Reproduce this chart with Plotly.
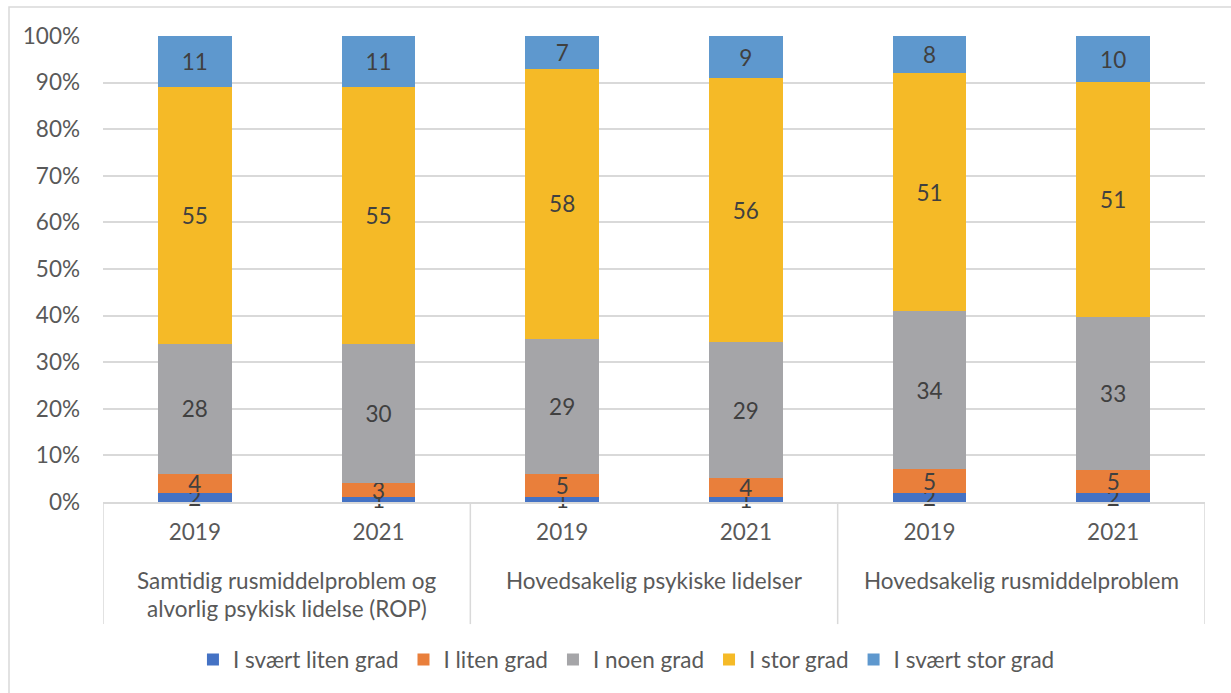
import plotly.graph_objects as go

# Group labels (lines kept separate so line spacing can be controlled)
groups = [
    ["Samtidig rusmiddelproblem og", "alvorlig psykisk lidelse (ROP)"],
    ["Hovedsakelig psykiske lidelser"],
    ["Hovedsakelig rusmiddelproblem"],
]
years = ["2019", "2021", "2019", "2021", "2019", "2021"]

series_names = ["I svært liten grad", "I liten grad", "I noen grad", "I stor grad", "I svært stor grad"]
svaert_liten = [2, 1, 1, 1, 2, 2]
liten = [4, 3, 5, 4, 5, 5]
noen = [28, 30, 29, 29, 34, 33]
stor = [55, 55, 58, 56, 51, 51]
svaert_stor = [11, 11, 7, 9, 8, 10]
series_values = [svaert_liten, liten, noen, stor, svaert_stor]
colors = ["#4472C4", "#E97F3B", "#A5A5A8", "#F5BA27", "#5E98CE"]

FONT = "Lato"
FS = 22.5
AXIS_GREY = "#D9D9D9"
TEXT_GREY = "#595959"

x_pos = list(range(len(years)))

fig = go.Figure()
for name, vals, col in zip(series_names, series_values, colors):
    fig.add_trace(go.Bar(
        x=x_pos, y=vals, name=name,
        marker=dict(color=col, line=dict(width=0)),
        width=0.4,
        text=[str(v) for v in vals],
        textposition="inside",
        insidetextanchor="middle",
        constraintext="none",
        textangle=0,
        textfont=dict(family=FONT, size=FS, color="#404040"),
        cliponaxis=False,
        hoverinfo="skip",
    ))

shapes = []
# chart outer border
shapes.append(dict(type="rect", xref="paper", yref="paper",
                   x0=-0.0853, x1=1.06, y0=-0.45, y1=1.0622,
                   line=dict(color=AXIS_GREY, width=1.5), layer="below"))
# category box dividers
for xd in [-0.5, 1.5, 3.5, 5.5]:
    shapes.append(dict(type="line", xref="x", yref="paper",
                       x0=xd, x1=xd, y0=0, y1=-0.262,
                       line=dict(color=AXIS_GREY, width=1.5)))

annotations = []
for gi, lines in enumerate(groups):
    xc = gi * 2 + 0.5
    for li, line in enumerate(lines):
        annotations.append(dict(
            x=xc, xref="x", y=-(78 + 28 * li) / 466, yref="paper",
            text=line, showarrow=False, xanchor="center", yanchor="middle",
            font=dict(family=FONT, size=FS, color=TEXT_GREY)))

fig.update_layout(
    width=1231, height=693,
    margin=dict(l=103, r=26, t=36, b=191),
    paper_bgcolor="white", plot_bgcolor="white",
    barmode="stack", barnorm="percent",
    font=dict(family=FONT, size=FS, color=TEXT_GREY),
    shapes=shapes, annotations=annotations,
    legend=dict(orientation="h", x=0.475, xanchor="center",
                y=-0.339, yanchor="middle",
                font=dict(family=FONT, size=FS, color=TEXT_GREY),
                itemclick=False, itemdoubleclick=False,
                traceorder="normal"),
    xaxis=dict(range=[-0.5, 5.5], tickmode="array", tickvals=x_pos, ticktext=years,
               showgrid=False, zeroline=False, showline=True, linecolor=AXIS_GREY,
               linewidth=1.5, ticks="", ticklabelstandoff=9,
               tickfont=dict(family=FONT, size=FS, color=TEXT_GREY), fixedrange=True),
    yaxis=dict(range=[0, 100.0001], tickmode="array", tickvals=list(range(0, 101, 10)),
               ticktext=[f"{v}%" for v in range(0, 101, 10)],
               showgrid=True, gridcolor=AXIS_GREY, gridwidth=1.5, zeroline=False,
               showline=False, ticks="", ticklabelstandoff=22,
               tickfont=dict(family=FONT, size=FS, color=TEXT_GREY), fixedrange=True),
)

fig.write_html("out.html")
